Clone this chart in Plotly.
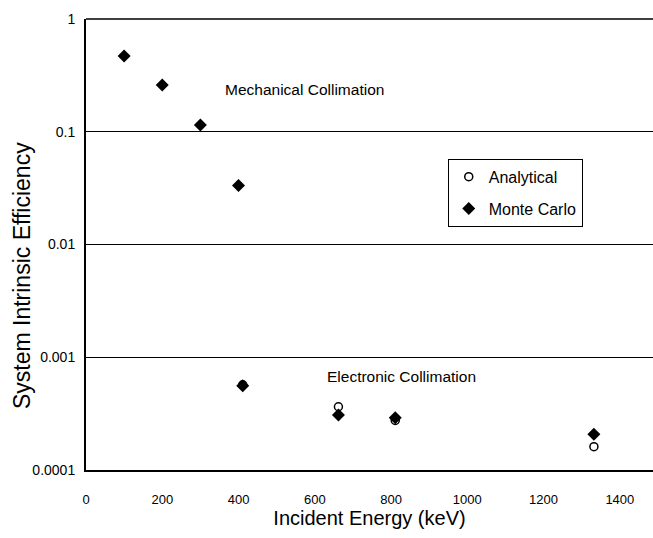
import plotly.graph_objects as go

# Data
mc_energy = [100, 200, 300, 400, 411, 662, 811, 1332]
mc_eff = [0.47, 0.26, 0.115, 0.0333, 5.6e-4, 3.07e-4, 2.9e-4, 2.07e-4]
an_energy = [411, 662, 811, 1332]
an_eff = [5.7e-4, 3.64e-4, 2.75e-4, 1.61e-4]
y_tickvals = [1, 0.1, 0.01, 0.001, 0.0001]
y_ticktext = ["1", "0.1", "0.01", "0.001", "0.0001"]
x_tickvals = [0, 200, 400, 600, 800, 1000, 1200, 1400]

font = "Liberation Sans, Arial, sans-serif"

fig = go.Figure()
fig.add_trace(go.Scatter(
    x=an_energy, y=an_eff, mode="markers", name="Analytical", legendgroup="a",
    marker=dict(symbol="circle-open", size=8, color="black", line=dict(width=1.5, color="black")),
))
fig.add_trace(go.Scatter(
    x=mc_energy, y=mc_eff, mode="markers", name="Monte Carlo", legendgroup="b",
    marker=dict(symbol="diamond", size=10, color="black"),
))

fig.add_annotation(x=0.386, y=0.8426, xref="paper", yref="paper", text="Mechanical Collimation",
                   xanchor="center", yanchor="middle",
                   showarrow=False, font=dict(family=font, size=15.5, color="black"))
fig.add_annotation(x=0.557, y=0.2084, xref="paper", yref="paper", text="Electronic Collimation",
                   xanchor="center", yanchor="middle",
                   showarrow=False, font=dict(family=font, size=15.5, color="black"))
# y-axis title
fig.add_annotation(x=-(86 - 22) / 567, y=0.43, xref="paper", yref="paper",
                   text="System Intrinsic Efficiency", textangle=-90,
                   xanchor="center", yanchor="middle",
                   showarrow=False, font=dict(family=font, size=23, color="black"))

# top border line
fig.add_shape(type="line", xref="paper", yref="paper", x0=0, x1=1, y0=1, y1=1,
              line=dict(color="black", width=1.5))

fig.update_layout(
    width=653, height=538,
    margin=dict(l=86, r=0, t=19, b=68),
    paper_bgcolor="white", plot_bgcolor="white",
    font=dict(family=font, size=12, color="black"),
    showlegend=True,
    legend=dict(x=0.638, y=0.69, xanchor="left", yanchor="top",
                bordercolor="black", borderwidth=1, bgcolor="white",
                font=dict(family=font, size=16, color="black"),
                traceorder="grouped", tracegroupgap=8,
                itemwidth=30),
    xaxis=dict(range=[0, 1487], tickvals=x_tickvals, showgrid=False,
               showline=True, linecolor="black", linewidth=2, ticks="",
               zeroline=False, tickfont=dict(size=13), ticklabelstandoff=16,
               title=dict(text="Incident Energy (keV)", font=dict(size=20), standoff=4)),
    yaxis=dict(type="log", range=[-4, 0], tickvals=y_tickvals, ticktext=y_ticktext,
               showgrid=True, gridcolor="black", gridwidth=1,
               showline=True, linecolor="black", linewidth=2, ticks="",
               tickfont=dict(size=14), ticklabelstandoff=6),
)

fig.write_html("out.html")
